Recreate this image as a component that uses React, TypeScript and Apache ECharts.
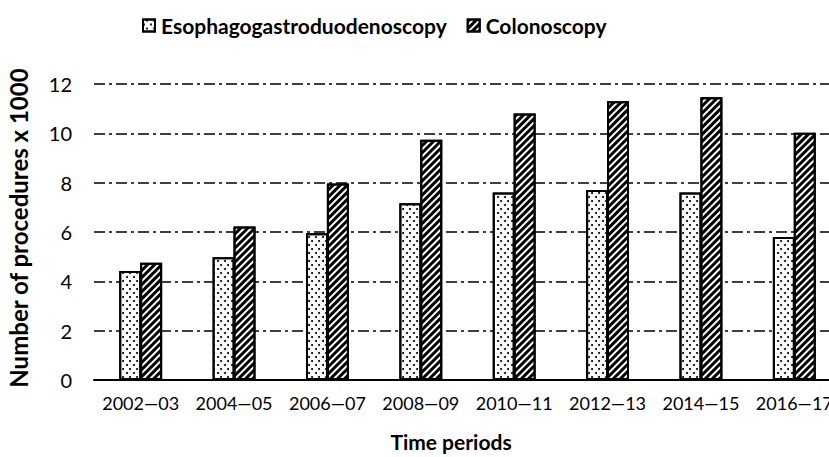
import React, { useEffect, useRef } from "react";
import * as echarts from "echarts";

const categories = ["2002—03", "2004—05", "2006—07", "2008—09", "2010—11", "2012—13", "2014—15", "2016—17"];
const egdValues = [4.42, 4.98, 5.95, 7.17, 7.6, 7.7, 7.6, 5.8];
const colonValues = [4.75, 6.22, 7.97, 9.74, 10.8, 11.3, 11.46, 10.02];
const seriesNames = ["Esophagogastroduodenoscopy", "Colonoscopy"];
const yTicks = { min: 0, max: 12, interval: 2 };

const FONT = "Lato, 'Open Sans', sans-serif";

const dotDecal = {
  symbol: "circle",
  symbolSize: 1,
  color: "#000",
  dashArrayX: [[1.5, 4.5], [0, 3, 1.5, 1.5]],
  dashArrayY: [1.5, 2],
  rotation: 0,
};

const stripeDecal = {
  symbol: "rect",
  symbolSize: 1,
  color: "#000",
  dashArrayX: [1, 0],
  dashArrayY: [2.2, 1.8],
  rotation: -Math.PI / 4,
};

export default function App() {
  const ref = useRef<HTMLDivElement>(null);
  useEffect(() => {
    if (!ref.current) return;
    const chart = echarts.init(ref.current, null, { renderer: "svg" });
    chart.setOption({
      animation: false,
      backgroundColor: "#fff",
      textStyle: { fontFamily: FONT, color: "#000" },
      legend: {
        top: 10,
        left: 137,
        icon: "rect",
        itemWidth: 12,
        itemHeight: 12,
        itemGap: 20,
        data: seriesNames,
        textStyle: { fontFamily: FONT, fontWeight: "bold", fontSize: 21, color: "#000", padding: [0, 0, 0, 1] },
      },
      grid: { left: 94, width: 747, top: 84, bottom: 77, containLabel: false, outerBoundsMode: "none" },
      xAxis: {
        type: "category",
        data: categories,
        axisLine: { show: true, lineStyle: { color: "#000", width: 2 } },
        axisTick: { show: false },
        axisLabel: { fontFamily: FONT, fontSize: 18, color: "#000", margin: 14, interval: 0, hideOverlap: false },
        name: "Time periods",
        nameLocation: "middle",
        nameGap: 51,
        nameTextStyle: { fontFamily: FONT, fontWeight: "bold", fontSize: 21, color: "#000", padding: [0, 33, 0, 0] },
      },
      yAxis: {
        type: "value",
        min: yTicks.min,
        max: yTicks.max,
        interval: yTicks.interval,
        axisLine: { show: false },
        axisTick: { show: false },
        axisLabel: { fontFamily: FONT, fontSize: 20, color: "#000", margin: 22 },
        splitLine: { show: true, lineStyle: { color: "#000", width: 1.6, type: [11, 4, 3, 4] } },
        name: "Number of procedures x 1000",
        nameLocation: "middle",
        nameGap: 64,
        nameRotate: 90,
        nameTextStyle: { fontFamily: FONT, fontWeight: "bold", fontSize: 24, color: "#000", padding: [0, 0, 0, 8] },
      },
      series: [
        {
          name: seriesNames[0],
          type: "bar",
          data: egdValues,
          barWidth: 22,
          barGap: "-5%",
          itemStyle: { color: "#fff", borderColor: "#000", borderWidth: 2, decal: dotDecal },
        },
        {
          name: seriesNames[1],
          type: "bar",
          data: colonValues,
          barWidth: 22,
          barGap: "-5%",
          itemStyle: { color: "#fff", borderColor: "#000", borderWidth: 2, decal: stripeDecal },
        },
      ],
    });
    return () => chart.dispose();
  }, []);
  return <div ref={ref} style={{ position: "fixed", left: 0, top: 0, width: 829, height: 457 }} />;
}
